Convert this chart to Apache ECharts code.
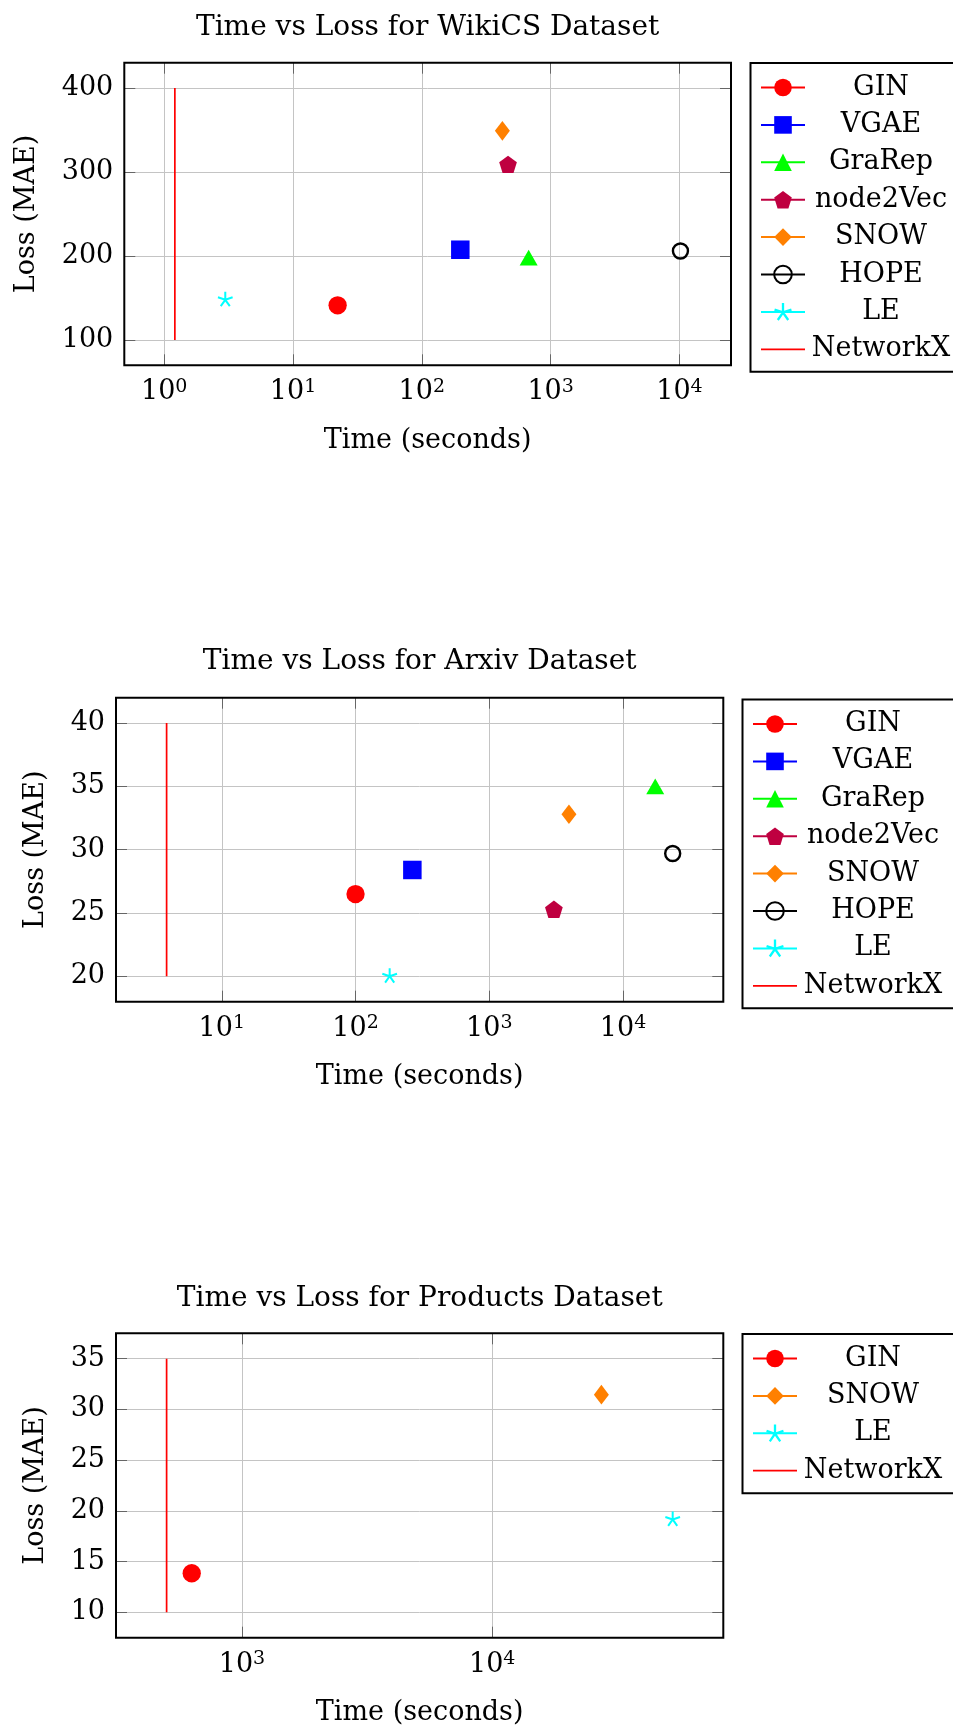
<!DOCTYPE html>
<html>
<head>
<meta charset="utf-8">
<script src="https://cdn.jsdelivr.net/npm/echarts@6/dist/echarts.min.js"></script>
<style>
html,body{margin:0;padding:0;background:#fff;}
#c{width:953px;height:1729px;}
</style>
</head>
<body>
<div id="c"></div>
<script>
// ---------------- DATA ----------------
const titles = ['Time vs Loss for WikiCS Dataset', 'Time vs Loss for Arxiv Dataset', 'Time vs Loss for Products Dataset'];
const xAxisTitle = 'Time (seconds)';
const yAxisTitle = 'Loss (MAE)';

// WikiCS
const wikiMethods = ['GIN', 'VGAE', 'GraRep', 'node2Vec', 'SNOW', 'HOPE', 'LE'];
const wikiTime = [22.2, 199, 675, 467, 422, 10180, 2.98];
const wikiLoss = [141.4, 207.5, 198, 309, 349, 206, 148.5];
const wikiNetworkXTime = [1.21, 1.21];
const wikiNetworkXLoss = [100, 400];

// Arxiv
const arxivMethods = ['GIN', 'VGAE', 'GraRep', 'node2Vec', 'SNOW', 'HOPE', 'LE'];
const arxivTime = [100, 266, 17400, 3040, 3940, 23500, 180];
const arxivLoss = [26.5, 28.4, 35.0, 25.3, 32.8, 29.7, 20.05];
const arxivNetworkXTime = [3.87, 3.87];
const arxivNetworkXLoss = [20, 40];

// Products
const productsMethods = ['GIN', 'SNOW', 'LE'];
const productsTime = [630, 27300, 52600];
const productsLoss = [13.85, 31.45, 19.2];
const productsNetworkXTime = [500, 500];
const productsNetworkXLoss = [10, 35];

// ---------------- STYLE ----------------
const FONT = 'DejaVu Serif';
const FS = 27;

function starPath() {
  const r = 10, w = 1.3;
  let d = '';
  for (let k = 0; k < 5; k++) {
    const a = k * 72 * Math.PI / 180;
    const dx = Math.sin(a), dy = -Math.cos(a);
    const nx = Math.cos(a), ny = Math.sin(a);
    const p = [[nx * w, ny * w], [nx * w + dx * r, ny * w + dy * r], [-nx * w + dx * r, -ny * w + dy * r], [-nx * w, -ny * w]];
    d += 'M' + p.map(q => q[0].toFixed(3) + ',' + q[1].toFixed(3)).join('L') + 'Z';
  }
  return 'path://' + d;
}
function pentagonPath() {
  const pts = [];
  for (let k = 0; k < 5; k++) {
    const a = k * 72 * Math.PI / 180;
    pts.push((10 * Math.sin(a)).toFixed(3) + ',' + (-10 * Math.cos(a)).toFixed(3));
  }
  return 'path://M' + pts.join('L') + 'Z';
}

const STYLE = {
  GIN: { color: '#ff0000', symbol: 'circle', size: 18.3 },
  VGAE: { color: '#0000ff', symbol: 'rect', size: 18.5 },
  GraRep: { color: '#00ff00', symbol: 'triangle', size: [18, 15.7] },
  node2Vec: { color: '#bf0040', symbol: pentagonPath(), size: [17.7, 17.3] },
  SNOW: { color: '#ff8000', symbol: 'diamond', size: [15, 19.7] },
  HOPE: { color: '#000000', symbol: 'circle', size: 15, hollow: true },
  LE: { color: '#00ffff', symbol: starPath(), size: [15.3, 15] }
};
const NX_COLOR = '#ff0000';

const GRIDS = [
  { left: 124.3, top: 62.7, width: 606.7, height: 302.6, yNameGap: 84, legendLeft: 750.5, legendTop: 63, titleX: 427.6, titleY: 27.5 },
  { left: 116, top: 697.7, width: 607.3, height: 304, yNameGap: 67, legendLeft: 742.5, legendTop: 699.5, titleX: 419.7, titleY: 661.5 },
  { left: 116, top: 1333.3, width: 607.3, height: 304.4, yNameGap: 67, legendLeft: 742.5, legendTop: 1334, titleX: 419.7, titleY: 1298.5 }
];

const DATASETS = [
  { methods: wikiMethods, time: wikiTime, loss: wikiLoss, nxT: wikiNetworkXTime, nxL: wikiNetworkXLoss },
  { methods: arxivMethods, time: arxivTime, loss: arxivLoss, nxT: arxivNetworkXTime, nxL: arxivNetworkXLoss },
  { methods: productsMethods, time: productsTime, loss: productsLoss, nxT: productsNetworkXTime, nxL: productsNetworkXLoss }
];

// pgfplots-like 10% enlargement of axis limits
function enlarge(lo, hi) { const s = hi - lo; return [lo - 0.1 * s, hi + 0.1 * s]; }

const option = {
  animation: false,
  backgroundColor: '#fff',
  textStyle: { fontFamily: FONT },
  title: [], grid: [], xAxis: [], yAxis: [], legend: [], series: []
};

const tickStyle = { inside: true, length: 11, lineStyle: { color: '#666', width: 1 } };
const splitStyle = { show: true, showMinLine: false, showMaxLine: false, lineStyle: { color: '#c4c4c4', width: 1 } };

DATASETS.forEach((ds, g) => {
  const G = GRIDS[g];
  const allT = ds.time.concat(ds.nxT).map(v => Math.log10(v));
  const allL = ds.loss.concat(ds.nxL);
  const xr = enlarge(Math.min(...allT), Math.max(...allT));
  const yr = enlarge(Math.min(...allL), Math.max(...allL));

  option.title.push({
    text: titles[g], left: G.titleX, top: G.titleY, textAlign: 'center', textVerticalAlign: 'middle', padding: 0,
    textStyle: { fontFamily: FONT, fontSize: 28, fontWeight: 'normal', color: '#000' }
  });
  option.grid.push({
    left: G.left, top: G.top, width: G.width, height: G.height,
    show: true, borderColor: '#000', borderWidth: 2, backgroundColor: 'transparent', z: 3,
    containLabel: false, outerBoundsMode: 'none'
  });

  const xBase = {
    type: 'log', logBase: 10, gridIndex: g,
    min: Math.pow(10, xr[0]), max: Math.pow(10, xr[1]),
    axisLine: { show: false }, axisTick: tickStyle, minorTick: { show: false }
  };
  option.xAxis.push(Object.assign({}, xBase, {
    position: 'bottom',
    name: xAxisTitle, nameLocation: 'middle', nameGap: 62, nameMoveOverlap: false,
    nameTextStyle: { fontFamily: FONT, fontSize: FS, color: '#000' },
    splitLine: splitStyle,
    axisLabel: {
      show: true, margin: 12, showMinLabel: false, showMaxLabel: false, color: '#000',
      formatter: v => {
        const e = Math.round(Math.log10(v));
        return Math.abs(v / Math.pow(10, e) - 1) < 1e-6 ? '{b|10}{s|' + e + '}' : '';
      },
      rich: {
        b: { fontFamily: FONT, fontSize: FS, lineHeight: 30, color: '#000' },
        s: { fontFamily: FONT, fontSize: 19, lineHeight: 17, verticalAlign: 'top', color: '#000' }
      }
    }
  }));
  option.xAxis.push(Object.assign({}, xBase, {
    position: 'top', axisLabel: { show: false }, splitLine: { show: false }
  }));

  const yBase = {
    type: 'value', gridIndex: g, min: yr[0], max: yr[1], splitNumber: 5,
    axisLine: { show: false }, axisTick: tickStyle
  };
  option.yAxis.push(Object.assign({}, yBase, {
    position: 'left',
    name: yAxisTitle, nameLocation: 'middle', nameGap: G.yNameGap, nameMoveOverlap: false,
    nameTextStyle: { fontFamily: FONT, fontSize: FS, color: '#000' },
    splitLine: splitStyle,
    axisLabel: { show: true, margin: 11, showMinLabel: false, showMaxLabel: false, fontFamily: FONT, fontSize: FS, color: '#000' }
  }));
  option.yAxis.push(Object.assign({}, yBase, {
    position: 'right', axisLabel: { show: false }, splitLine: { show: false }
  }));

  const xi = 2 * g, yi = 2 * g;
  ds.methods.forEach((m, i) => {
    const st = STYLE[m];
    option.series.push({
      type: 'line', name: m, xAxisIndex: xi, yAxisIndex: yi,
      data: [[ds.time[i], ds.loss[i]]],
      symbol: st.symbol, symbolSize: st.size, showSymbol: true,
      itemStyle: st.hollow ? { color: 'rgba(0,0,0,0)', borderColor: st.color, borderWidth: 2.4 } : { color: st.color, borderWidth: 0 },
      lineStyle: { color: st.color, width: 2 },
      silent: true, emphasis: { disabled: true }, z: 2
    });
  });
  option.series.push({
    type: 'line', name: 'NetworkX', xAxisIndex: xi, yAxisIndex: yi,
    data: ds.nxT.map((t, i) => [t, ds.nxL[i]]),
    symbol: 'none', showSymbol: false,
    itemStyle: { color: NX_COLOR, borderWidth: 0 },
    lineStyle: { color: NX_COLOR, width: 1.7 },
    silent: true, emphasis: { disabled: true }, z: 1
  });

  const legendData = ds.methods.map(m => ({ name: m })).concat([{
    name: 'NetworkX',
    icon: 'path://M0,0L0,0M0,22L0,22M0,10.1L44,10.1L44,11.9L0,11.9Z'
  }]);
  option.legend.push({
    orient: 'vertical', left: G.legendLeft, top: G.legendTop,
    padding: [11, 24, 9, 9.5],
    itemWidth: 44, itemHeight: 22, itemGap: 10.4,
    borderColor: '#000', borderWidth: 2, backgroundColor: '#fff',
    selectedMode: false,
    data: legendData,
    formatter: n => '{c|' + n + '}',
    textStyle: {
      fontFamily: FONT, fontSize: FS, color: '#000',
      rich: { c: { width: 142, align: 'center', fontFamily: FONT, fontSize: FS, lineHeight: 22, color: '#000' } }
    }
  });
});

const chart = echarts.init(document.getElementById('c'), null, { renderer: 'canvas' });
chart.setOption(option);
</script>
</body>
</html>
